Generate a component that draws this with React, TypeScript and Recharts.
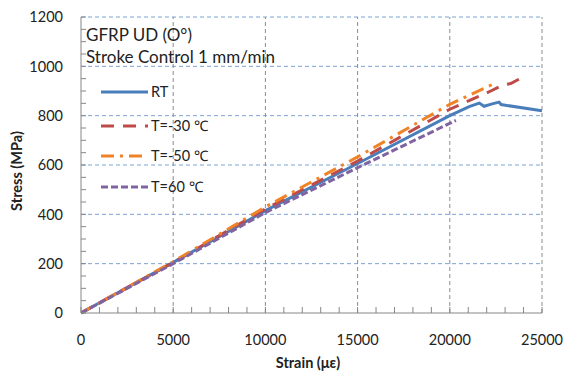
import React from 'react';
import { LineChart, Line, XAxis, YAxis, ReferenceLine, Legend } from 'recharts';

// strain (µε) vs stress (MPa)
const rtData = [
  { strain: 0, stress: 0 },
  { strain: 5000, stress: 205 },
  { strain: 10000, stress: 415 },
  { strain: 15000, stress: 606 },
  { strain: 20000, stress: 800 },
  { strain: 21050, stress: 837 },
  { strain: 21600, stress: 851 },
  { strain: 21860, stress: 838 },
  { strain: 22300, stress: 848 },
  { strain: 22670, stress: 855 },
  { strain: 22780, stress: 845 },
  { strain: 25000, stress: 820 },
];

const m30Data = [
  { strain: 0, stress: 0 },
  { strain: 5000, stress: 205 },
  { strain: 10000, stress: 422 },
  { strain: 15000, stress: 616 },
  { strain: 20000, stress: 826 },
  { strain: 22140, stress: 897 },
  { strain: 22860, stress: 924 },
  { strain: 23300, stress: 930 },
  { strain: 24100, stress: 962 },
];

const m50Data = [
  { strain: 0, stress: 0 },
  { strain: 5000, stress: 208 },
  { strain: 10000, stress: 430 },
  { strain: 15000, stress: 633 },
  { strain: 20000, stress: 846 },
  { strain: 21860, stress: 911 },
  { strain: 22320, stress: 927 },
];

const p60Data = [
  { strain: 0, stress: 0 },
  { strain: 5000, stress: 200 },
  { strain: 10000, stress: 407 },
  { strain: 15000, stress: 589 },
  { strain: 20330, stress: 781 },
];

const seriesNames = ['RT', 'T=-30 ℃', 'T=-50 ℃', 'T=60 ℃'];
const titleLines = ['GFRP UD (O°)', 'Stroke Control 1 mm/min'];

const xMajor = [0, 5000, 10000, 15000, 20000, 25000];
const yMajor = [0, 200, 400, 600, 800, 1000, 1200];
const xMinor = Array.from({ length: 26 }, (_, i) => i * 1000);
const yMinor = Array.from({ length: 25 }, (_, i) => i * 50);

const FONT = 'Lato, "Liberation Sans", sans-serif';
const AXIS = '#868686';
const styles = [
  { color: '#4A7EBB', dash: undefined },
  { color: '#BE4B48', dash: '13 9' },
  { color: '#F08228', dash: '13 6 3 6' },
  { color: '#8064A2', dash: '7 3' },
];

const XTick = ({ x, y, payload }: any) => (
  <g>
    <line x1={x} x2={x} y1={y} y2={y - 6} stroke={AXIS} />
    {xMajor.includes(payload.value) && (
      <text x={x} y={y + 32} textAnchor="middle" fontSize={14.5} fill="#222" fontFamily={FONT}>
        {payload.value}
      </text>
    )}
  </g>
);

const YTick = ({ x, y, payload }: any) => (
  <g>
    <line x1={x} x2={x + 5} y1={y} y2={y} stroke={AXIS} />
    {yMajor.includes(payload.value) && (
      <text x={x - 18} y={y} dy="0.36em" textAnchor="end" fontSize={14.5} fill="#222" fontFamily={FONT}>
        {payload.value}
      </text>
    )}
  </g>
);

const LegendBox = () => (
  <svg width={320} height={200} style={{ display: 'block' }}>
    <text x={86} y={41} fontSize={17} fill="#222" fontFamily={FONT}>{titleLines[0]}</text>
    <text x={86} y={63} fontSize={17} fill="#222" fontFamily={FONT}>{titleLines[1]}</text>
    {seriesNames.map((name, i) => {
      const cy = [92, 126, 156, 187][i];
      return (
        <g key={name}>
          <line x1={101} x2={148} y1={cy} y2={cy} stroke={styles[i].color} strokeWidth={3} strokeDasharray={styles[i].dash} />
          <text x={151} y={cy} dy="0.36em" fontSize={14.5} fill="#222" fontFamily={FONT}>{name}</text>
        </g>
      );
    })}
  </svg>
);

export default function App() {
  const allData = [rtData, m30Data, m50Data, p60Data];
  return (
    <div style={{ width: 567, height: 376, background: '#fff' }}>
      <style>{'body{margin:0}'}</style>
      <LineChart width={567} height={376} margin={{ top: 17, right: 25, left: 0, bottom: 0 }}>
        <XAxis
          dataKey="strain"
          type="number"
          domain={[0, 25000]}
          ticks={xMinor}
          interval={0}
          tick={<XTick />}
          tickSize={0}
          tickMargin={0}
          tickLine={false}
          height={63}
          stroke={AXIS}
          allowDataOverflow
        />
        <YAxis
          type="number"
          domain={[0, 1200]}
          ticks={yMinor}
          interval={0}
          tick={<YTick />}
          tickSize={0}
          tickMargin={0}
          tickLine={false}
          width={81}
          stroke={AXIS}
        />
        {yMajor.slice(1).map((v) => (
          <ReferenceLine key={'y' + v} y={v} stroke="#7DA2D6" strokeDasharray="4 3" />
        ))}
        {xMajor.slice(1).map((v) => (
          <ReferenceLine key={'x' + v} x={v} stroke="#8C8C8C" strokeDasharray="4 3" />
        ))}
        {allData.map((d, i) => (
          <Line
            key={seriesNames[i]}
            name={seriesNames[i]}
            data={d}
            dataKey="stress"
            type="linear"
            dot={false}
            activeDot={false}
            stroke={styles[i].color}
            strokeWidth={3}
            strokeDasharray={styles[i].dash}
            isAnimationActive={false}
          />
        ))}
        <Legend
          layout="vertical"
          align="center"
          verticalAlign="middle"
          wrapperStyle={{ left: 0, top: 0, width: 320 }}
          content={<LegendBox />}
        />
        <text x={17} y={171} transform="rotate(-90 17 171)" textAnchor="middle" dy="0.36em" fontSize={14.5} fontWeight="bold" fill="#222" fontFamily={FONT}>
          Stress (MPa)
        </text>
        <text x={308} y={368} textAnchor="middle" fontSize={14.5} fontWeight="bold" fill="#222" fontFamily={FONT}>
          Strain (με)
        </text>
      </LineChart>
    </div>
  );
}
